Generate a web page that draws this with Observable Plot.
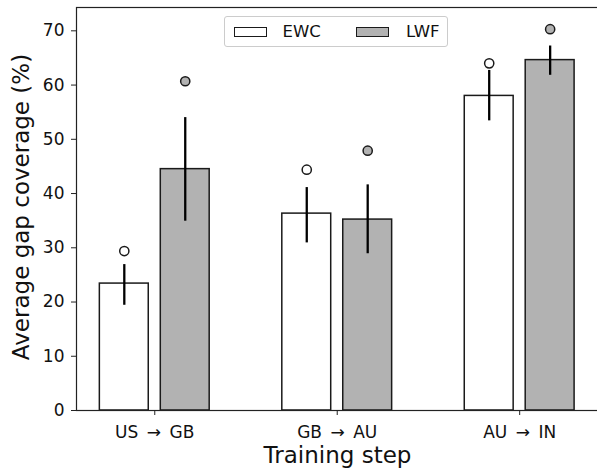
<!DOCTYPE html>
<html>
<head>
<meta charset="utf-8">
<script src="https://cdn.jsdelivr.net/npm/d3@7"></script>
<script src="https://cdn.jsdelivr.net/npm/@observablehq/plot@0.6"></script>
<style>
  body { margin: 0; background: #fff; font-family: "DejaVu Sans", sans-serif; }
  #wrap { position: relative; width: 597px; height: 468px; overflow: hidden; }
  .legend { position: absolute; left: 224px; top: 15.5px; width: 224px; height: 31px; box-sizing: border-box;
            border: 1px solid #cccccc; border-radius: 3px; background: rgba(255,255,255,0.8);
            font-size: 16.5px; color: #111; }
  .sw { position: absolute; top: 10px; width: 33px; height: 10px; box-sizing: border-box; border: 1.6px solid #1a1a1a; }
  .lt { position: absolute; top: -1px; line-height: 31px; white-space: nowrap; }
</style>
</head>
<body>
<div id="wrap"></div>
<script>
// ---- data ----
const steps = ["US\u2002\u2192\u2002GB", "GB\u2002\u2192\u2002AU", "AU\u2002\u2192\u2002IN"];
const methods = ["EWC", "LWF"];
const methodColors = ["#ffffff", "#b2b2b2"];
const ewcMean = [23.4, 36.3, 58.0];
const ewcLow = [19.4, 30.9, 53.4];
const ewcHigh = [26.9, 41.1, 62.7];
const ewcMarker = [29.4, 44.4, 64.0];
const lwfMean = [44.5, 35.2, 64.6];
const lwfLow = [34.9, 28.9, 61.8];
const lwfHigh = [54.0, 41.6, 67.2];
const lwfMarker = [60.7, 47.9, 70.3];
const yTicks = [0, 10, 20, 30, 40, 50, 60, 70];
const xLabel = "Training step";
const yLabel = "Average gap coverage (%)";

// ---- build table ----
const barW = 0.268, off = 0.167;
const series = [
  {m: 0, mean: ewcMean, lo: ewcLow, hi: ewcHigh, mk: ewcMarker},
  {m: 1, mean: lwfMean, lo: lwfLow, hi: lwfHigh, mk: lwfMarker}
];
const rows = [];
for (const s of series) {
  steps.forEach((st, i) => {
    const c = i + (s.m === 0 ? -off : off);
    rows.push({step: i, method: methods[s.m], color: methodColors[s.m], cx: c,
               x1: c - barW / 2, x2: c + barW / 2,
               mean: s.mean[i], lo: s.lo[i], hi: s.hi[i], marker: s.mk[i]});
  });
}

const chart = Plot.plot({
  width: 597,
  height: 468,
  marginLeft: 76,
  marginRight: -1,
  marginTop: 7,
  marginBottom: 58,
  style: {fontFamily: "DejaVu Sans, sans-serif", color: "#111", background: "transparent"},
  x: {type: "linear", domain: [-0.429, 2.432]},
  y: {domain: [0, 74.3]},
  marks: [
    Plot.rectY(rows, {x1: "x1", x2: "x2", y1: 0, y2: "mean", fill: "color", stroke: "#1a1a1a", strokeWidth: 1.5}),
    Plot.ruleX(rows, {x: "cx", y1: "lo", y2: "hi", stroke: "#000", strokeWidth: 2.3}),
    Plot.dot(rows, {x: "cx", y: "marker", r: 4.6, fill: "color", stroke: "#1a1a1a", strokeWidth: 1.5}),
    Plot.frame({stroke: "#222", strokeWidth: 1.2}),
    Plot.axisX({ticks: [0, 1, 2], tickFormat: i => steps[i], tickSize: 5, tickPadding: 10, fontSize: 17, label: null, stroke: "#222"}),
    Plot.axisY({ticks: yTicks, tickFormat: d => d, tickSize: 5, tickPadding: 7, fontSize: 17, label: null, stroke: "#222"}),
    Plot.text([xLabel], {text: d => d, frameAnchor: "bottom", dy: 52, lineAnchor: "bottom", fontSize: 23, fill: "#111"}),
    Plot.text([yLabel], {text: d => d, frameAnchor: "left", dx: -48, dy: -2, rotate: -90, textAnchor: "middle", lineAnchor: "bottom", fontSize: 23, fill: "#111"})
  ]
});

const wrap = document.getElementById("wrap");
wrap.appendChild(chart);

// legend (HTML, overlaid inside the plot area)
const leg = document.createElement("div");
leg.className = "legend";
const swLeft = [8.5, 131], txtLeft = [57.5, 181];
methods.forEach((m, k) => {
  const sw = document.createElement("div");
  sw.className = "sw";
  sw.style.left = swLeft[k] + "px";
  sw.style.background = methodColors[k];
  leg.appendChild(sw);
  const t = document.createElement("span");
  t.className = "lt";
  t.style.left = txtLeft[k] + "px";
  t.textContent = m;
  leg.appendChild(t);
});
wrap.appendChild(leg);
</script>
</body>
</html>
